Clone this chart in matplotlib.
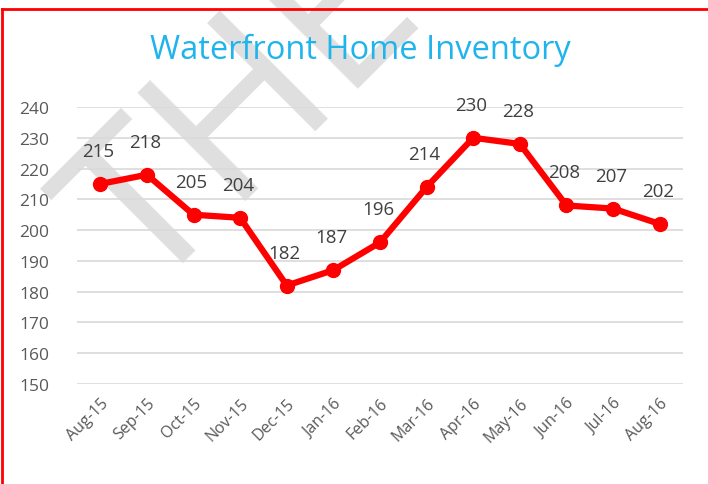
import matplotlib
matplotlib.use("Agg")
import matplotlib.pyplot as plt
from matplotlib.lines import Line2D

months = ["Aug-15", "Sep-15", "Oct-15", "Nov-15", "Dec-15", "Jan-16", "Feb-16",
          "Mar-16", "Apr-16", "May-16", "Jun-16", "Jul-16", "Aug-16"]
inventory = [215, 218, 205, 204, 182, 187, 196, 214, 230, 228, 208, 207, 202]
yticks = [150, 160, 170, 180, 190, 200, 210, 220, 230, 240]

plt.rcParams['font.family'] = ['Open Sans', 'DejaVu Sans']

W, H = 708, 485
fig = plt.figure(figsize=(W / 100, H / 100), dpi=100)
fig.patch.set_facecolor('white')

ax = fig.add_axes([77 / W, 1 - 385 / H, (683 - 77) / W, (385 - 108) / H])
ax.set_facecolor('none')

x = list(range(len(months)))
ax.plot(x, inventory, color='#ff0000', lw=4.5, marker='o', ms=10,
        solid_joinstyle='round', zorder=5)
for xi, v in zip(x, inventory):
    ax.annotate(str(v), (xi, v), xytext=(-2, 33), textcoords='offset pixels',
                ha='center', va='center', fontsize=13.5, color='#404040', zorder=6)

ax.set_xlim(-0.5, len(months) - 0.5)
ax.set_ylim(150, 240)
ax.set_yticks(yticks)
ax.set_yticklabels([str(t) for t in yticks], fontsize=12.5, color='#595959')
ax.set_xticks(x)
ax.set_xticklabels(months, rotation=45, ha='right', rotation_mode='anchor',
                   fontsize=11.5, color='#595959')
ax.tick_params(axis='both', length=0)
ax.tick_params(axis='y', pad=20)
ax.tick_params(axis='x', pad=8)
ax.grid(axis='y', color='#d9d9d9', lw=1.2)
ax.set_axisbelow(True)
for s in ax.spines.values():
    s.set_visible(False)

fig.text(360 / W, 1 - 50 / H, "Waterfront Home Inventory", ha='center', va='center',
         fontsize=23.5, color='#1fb4ec')

# watermark (partly outside the picture, as in the reference), behind the chart
fig.text(248 / W, 1 - 118 / H, "THE", rotation=45, ha='center', va='center',
         fontsize=155, fontweight='normal', color='#dfdfdf', zorder=-1)

# red border
fig.add_artist(Line2D([2 / W, 2 / W], [0, 1 - 10 / H], transform=fig.transFigure,
                      color='#ff0000', lw=2))
fig.add_artist(Line2D([2 / W, 1], [1 - 10 / H, 1 - 10 / H], transform=fig.transFigure,
                      color='#ff0000', lw=2))

fig.savefig("out.png", dpi=100)
